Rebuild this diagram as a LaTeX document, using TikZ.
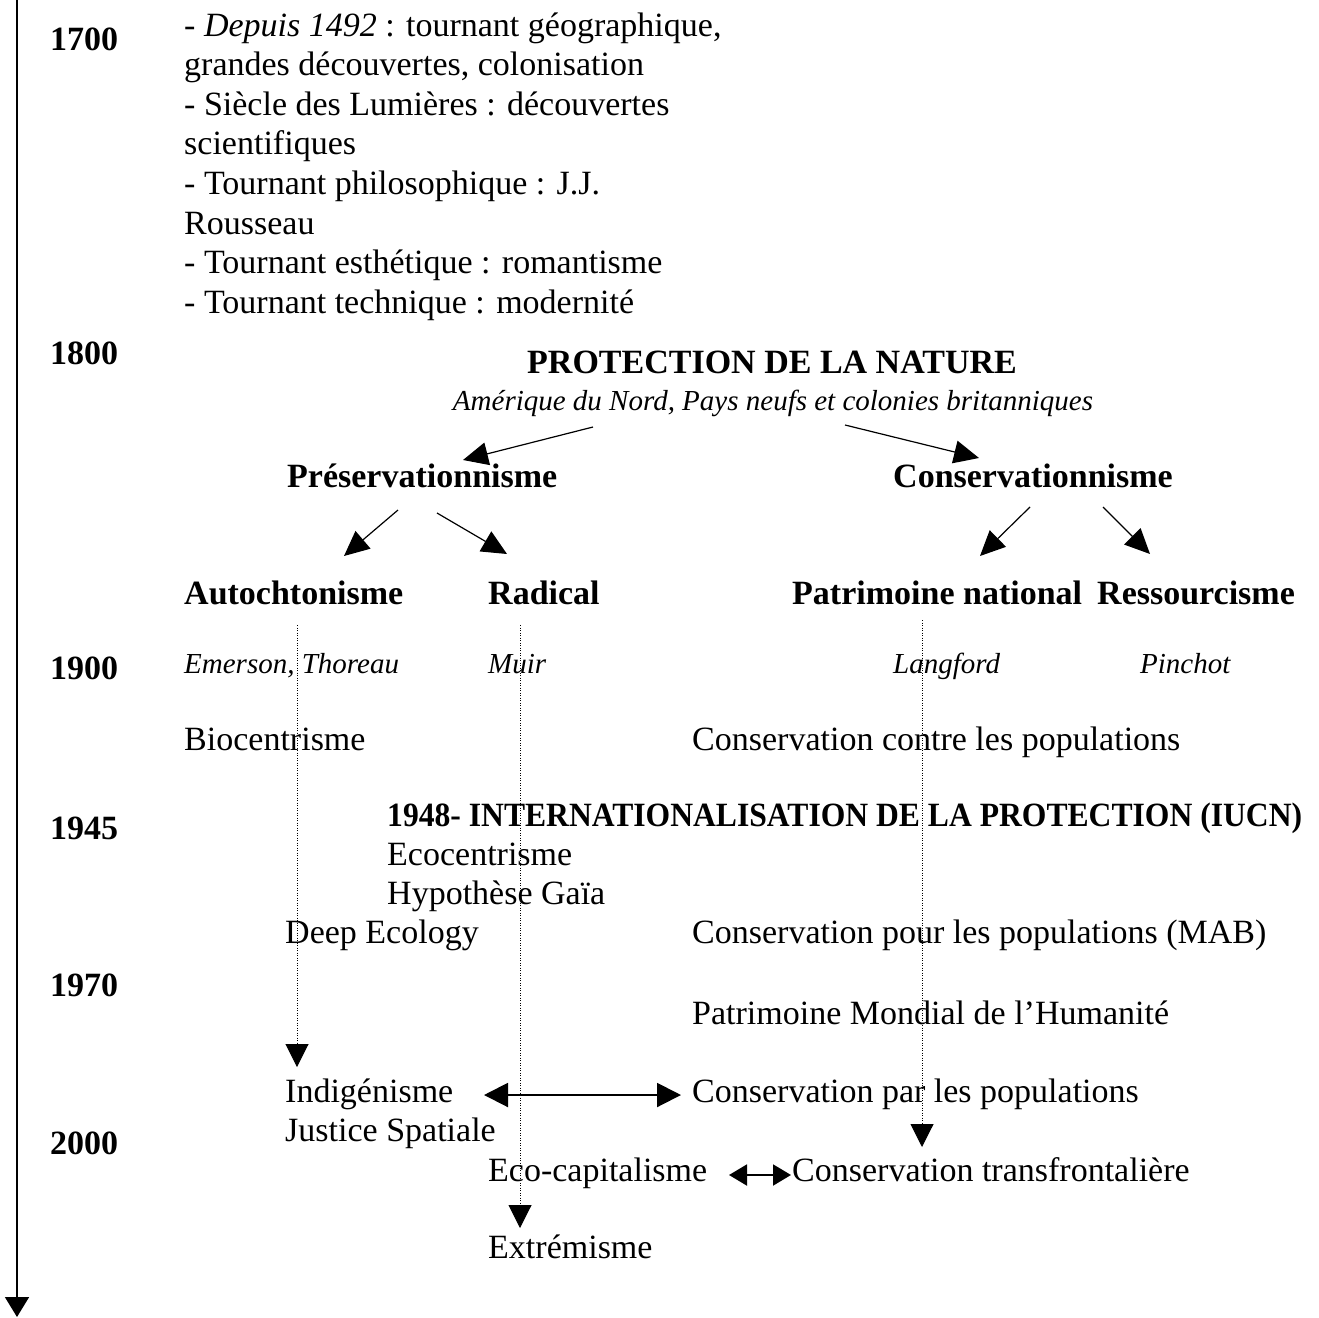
\documentclass[tikz,border=0pt]{standalone}
\usepackage{fontspec}
\setmainfont{Liberation Serif}
\usetikzlibrary{arrows.meta}
\begin{document}
\begin{tikzpicture}[x=1pt,y=-1pt,
  txt/.style={anchor=base west, inner sep=0pt, font=\fontsize{34}{40}\selectfont},
  btxt/.style={anchor=base west, inner sep=0pt, font=\fontsize{34}{40}\selectfont\bfseries},
  itxt/.style={anchor=base west, inner sep=0pt, font=\fontsize{29}{34}\selectfont\itshape},
  arr/.style={line width=1.2pt, -{Triangle[length=25pt,width=23pt]}},
  dots/.style={line width=1pt, dash pattern=on 1pt off 1.5pt, -{Triangle[length=23pt,width=23pt]}},
  dbl/.style={line width=2pt, {Triangle[length=24pt,width=24pt]}-{Triangle[length=24pt,width=24pt]}},
]
\useasboundingbox (0,0) rectangle (1319,1317);

% time axis
\coordinate (axtop) at (17,0);
\coordinate (axbot) at (17,1317);
\draw[line width=1.6pt, -{Triangle[length=20pt,width=24pt]}] (axtop) -- (axbot);

% years
\node[btxt] (y1700) at (50,50) {1700};
\node[btxt] (y1800) at (50,364) {1800};
\node[btxt] (y1900) at (50,679) {1900};
\node[btxt] (y1945) at (50,839) {1945};
\node[btxt] (y1970) at (50,996) {1970};
\node[btxt] (y2000) at (50,1154) {2000};

% top block
\node[txt] (l1) at (184,36) {- \textit{Depuis 1492} : tournant géographique,};
\node[txt] (l2) at (184,75.6) {grandes découvertes, colonisation};
\node[txt] (l3) at (184,115.2) {- Siècle des Lumières : découvertes};
\node[txt] (l4) at (184,154.8) {scientifiques};
\node[txt] (l5) at (184,194.4) {- Tournant philosophique : J.J.};
\node[txt] (l6) at (184,234) {Rousseau};
\node[txt] (l7) at (184,273.6) {- Tournant esthétique : romantisme};
\node[txt] (l8) at (184,313.2) {- Tournant technique : modernité};

% protection
\node[btxt, anchor=base] (prot) at (772,373) {PROTECTION DE LA NATURE};
\node[itxt, anchor=base] (amer) at (773,410) {Amérique du Nord, Pays neufs et colonies britanniques};

\node[btxt] (pres) at (287,487) {Préservationnisme};
\node[btxt] (cons) at (893,487) {Conservationnisme};

\node[btxt] (auto) at (184,604) {Autochtonisme};
\node[btxt] (radi) at (488,604) {Radical};
\node[btxt] (patn) at (792,604) {Patrimoine national};
\node[btxt] (ress) at (1097,604) {Ressourcisme};

\node[itxt] (emer) at (184,673) {Emerson, Thoreau};
\node[itxt] (muir) at (488,673) {Muir};
\node[itxt] (lang) at (893,673) {Langford};
\node[itxt] (pinc) at (1140,673) {Pinchot};

\node[txt] (bioc) at (184,750) {Biocentrisme};
\node[txt] (ccon) at (692,750) {Conservation contre les populations};

\node[btxt] (intl) at (387,826) {\scalebox{0.93}[1]{1948- INTERNATIONALISATION DE LA PROTECTION (IUCN)}};
\node[txt] (ecoc) at (387,865) {Ecocentrisme};
\node[txt] (gaia) at (387,904) {Hypothèse Gaïa};
\node[txt] (deep) at (285,943) {Deep Ecology};
\node[txt] (cpour) at (692,943) {Conservation pour les populations (MAB)};
\node[txt] (pmh) at (692,1024) {Patrimoine Mondial de l’Humanité};
\node[txt] (indi) at (285,1102) {Indigénisme};
\node[txt] (cpar) at (692,1102) {Conservation par les populations};
\node[txt] (just) at (285,1141) {Justice Spatiale};
\node[txt] (ecap) at (488,1181) {Eco-capitalisme};
\node[txt] (ctra) at (792,1181) {Conservation transfrontalière};
\node[txt] (extr) at (488,1258) {Extrémisme};

% tree arrows
\coordinate (a1s) at (593,427); \coordinate (a1e) at (463,460);
\coordinate (a2s) at (845,425); \coordinate (a2e) at (979,458);
\coordinate (a3s) at (398,510); \coordinate (a3e) at (344,556);
\coordinate (a4s) at (437,513); \coordinate (a4e) at (507,554);
\coordinate (a5s) at (1030,507); \coordinate (a5e) at (980,556);
\coordinate (a6s) at (1103,507); \coordinate (a6e) at (1150,554);
\draw[arr] (a1s) -- (a1e);
\draw[arr] (a2s) -- (a2e);
\draw[arr] (a3s) -- (a3e);
\draw[arr] (a4s) -- (a4e);
\draw[arr] (a5s) -- (a5e);
\draw[arr] (a6s) -- (a6e);

% dotted lines
\coordinate (d1s) at (297,625); \coordinate (d1e) at (297,1067);
\coordinate (d2s) at (520,625); \coordinate (d2e) at (520,1228);
\coordinate (d3s) at (922,620); \coordinate (d3e) at (922,1147);
\draw[dots] (d1s) -- (d1e);
\draw[dots] (d2s) -- (d2e);
\draw[dots] (d3s) -- (d3e);

% double arrows
\coordinate (b1s) at (484,1095); \coordinate (b1e) at (681,1095);
\draw[dbl] (b1s) -- (b1e);
\coordinate (b2s) at (729,1175); \coordinate (b2e) at (791,1175);
\draw[line width=2pt, {Triangle[length=18pt,width=21pt]}-{Triangle[length=18pt,width=21pt]}] (b2s) -- (b2e);
\end{tikzpicture}
\end{document}
